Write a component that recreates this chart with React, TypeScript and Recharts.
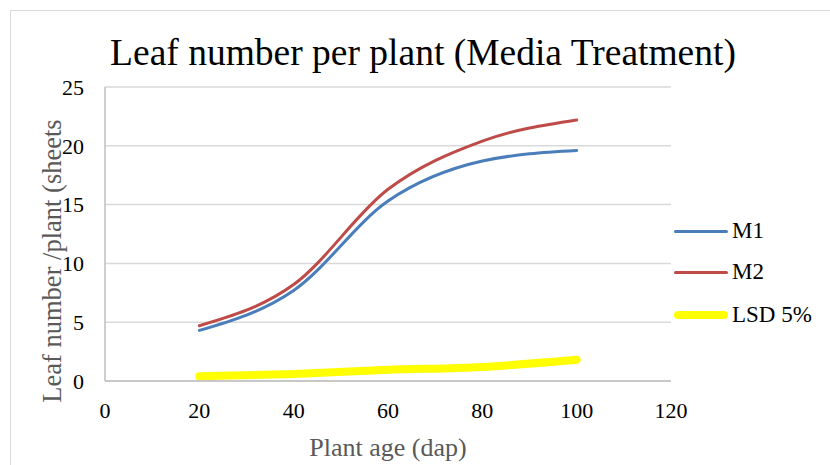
import { LineChart, Line, XAxis, YAxis, CartesianGrid } from "recharts";

// plant age (days after planting)
const ages = [20, 40, 60, 80, 100];
const m1 = [4.3, 7.7, 15.3, 18.7, 19.6];
const m2 = [4.7, 8.2, 16.3, 20.4, 22.2];
const lsd = [0.4, 0.6, 0.95, 1.2, 1.8];

const xTicks = [0, 20, 40, 60, 80, 100, 120];
const yTicks = [0, 5, 10, 15, 20, 25];

const series = [
  { key: "M1", values: m1, color: "#4a7ebb", width: 3 },
  { key: "M2", values: m2, color: "#be4b48", width: 3 },
  { key: "LSD 5%", values: lsd, color: "#ffff00", width: 8 },
];

const data = ages.map((age, i) => {
  const row: Record<string, number> = { age };
  series.forEach((s) => {
    row[s.key] = s.values[i];
  });
  return row;
});

const serif = "Liberation Serif";

const XTick = (props: any) => (
  <text
    x={props.x}
    y={props.y}
    dy="0.71em"
    textAnchor="middle"
    fontFamily={serif}
    fontSize={22}
    fill="#000"
  >
    {props.payload.value}
  </text>
);

const YTick = (props: any) => (
  <text
    x={props.x}
    y={props.y}
    dy="0.355em"
    textAnchor="end"
    fontFamily={serif}
    fontSize={22}
    fill="#000"
  >
    {props.payload.value}
  </text>
);

export default function App() {
  return (
    <div
      style={{
        position: "absolute",
        left: 0,
        top: 0,
        width: 830,
        height: 465,
        background: "#fff",
        overflow: "hidden",
        fontFamily: serif,
      }}
    >
      <div
        style={{
          position: "absolute",
          left: 10,
          top: 10,
          width: 840,
          height: 470,
          border: "1px solid #d9d9d9",
        }}
      />
      <div
        style={{
          position: "absolute",
          left: 0,
          width: 846,
          top: 31,
          textAlign: "center",
          fontSize: 37.5,
          color: "#000",
          lineHeight: "44px",
          whiteSpace: "nowrap",
        }}
      >
        Leaf number per plant (Media Treatment)
      </div>
      <LineChart
        width={830}
        height={465}
        data={data}
        margin={{ top: 87, right: 159, bottom: 44, left: 65 }}
        style={{ position: "absolute", left: 0, top: 0 }}
      >
        <CartesianGrid vertical={false} stroke="#d9d9d9" strokeWidth={1.5} />
        <XAxis
          dataKey="age"
          type="number"
          domain={[0, 120]}
          ticks={xTicks}
          height={40}
          tickLine={false}
          tickSize={0}
          tickMargin={21}
          axisLine={{ stroke: "#bfbfbf", strokeWidth: 1.5 }}
          tick={XTick}
        />
        <YAxis
          type="number"
          domain={[0, 25]}
          ticks={yTicks}
          width={40}
          tickLine={false}
          tickSize={0}
          tickMargin={21}
          axisLine={{ stroke: "#bfbfbf", strokeWidth: 1.5 }}
          tick={YTick}
        />
        {series.map((s) => (
          <Line
            key={s.key}
            dataKey={s.key}
            type="monotone"
            stroke={s.color}
            strokeWidth={s.width}
            strokeLinecap="round"
            dot={false}
            activeDot={false}
            isAnimationActive={false}
          />
        ))}
      </LineChart>
      <div
        style={{
          position: "absolute",
          left: 52,
          top: 261,
          transform: "translate(-50%, -50%) rotate(-90deg)",
          whiteSpace: "nowrap",
          fontSize: 26.5,
          lineHeight: "30px",
          color: "#595959",
        }}
      >
        Leaf number /plant (sheets
      </div>
      <div
        style={{
          position: "absolute",
          left: 388,
          top: 448,
          transform: "translate(-50%, -50%)",
          whiteSpace: "nowrap",
          fontSize: 26,
          lineHeight: "30px",
          color: "#595959",
        }}
      >
        Plant age (dap)
      </div>
      {series.map((s, i) => (
        <div
          key={s.key}
          style={{
            position: "absolute",
            left: 674,
            top: [231, 272, 315][i] - 14,
            height: 28,
            display: "flex",
            alignItems: "center",
            fontSize: 23,
            color: "#000",
            whiteSpace: "nowrap",
          }}
        >
          <span
            style={{
              display: "inline-block",
              width: 54,
              height: s.width,
              borderRadius: s.width / 2,
              background: s.color,
              marginRight: 4,
            }}
          />
          {s.key}
        </div>
      ))}
    </div>
  );
}
